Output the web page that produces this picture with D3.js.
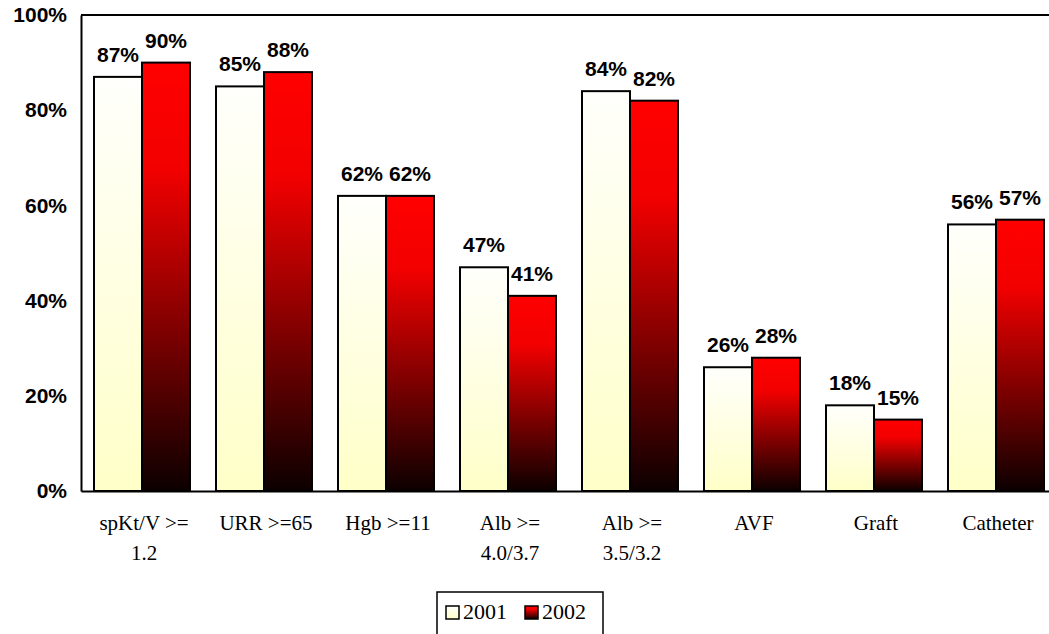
<!DOCTYPE html>
<html>
<head>
<meta charset="utf-8">
<script src="https://cdn.jsdelivr.net/npm/d3@7/dist/d3.min.js"></script>
<style>
  html, body { margin: 0; padding: 0; background: #fff; }
  svg { display: block; }
</style>
</head>
<body>
<svg id="chart" width="1049" height="634"></svg>
<script>
// Quality indicators, share of patients meeting each target
const categories = [
  ["spKt/V >=", "1.2"],
  ["URR >=65"],
  ["Hgb >=11"],
  ["Alb >=", "4.0/3.7"],
  ["Alb >=", "3.5/3.2"],
  ["AVF"],
  ["Graft"],
  ["Catheter"]
];
const years = ["2001", "2002"];
const values2001 = [87, 85, 62, 47, 84, 26, 18, 56];
const values2002 = [90, 88, 62, 41, 82, 28, 15, 57];
const yTicks = [0, 20, 40, 60, 80, 100];

const series = [values2001, values2002];
const catKeys = categories.map(c => c.join(" "));

const svg = d3.select("#chart");
const W = 1049, H = 634;
const m = { left: 81, top: 15, bottom: 491 };
const plotRight = 1057; // the frame runs past the visible right edge

const x0 = d3.scaleBand().domain(catKeys).range([m.left, plotRight]).paddingInner(0).paddingOuter(0);
const pairWidth = 96;
const x1 = d3.scaleBand().domain(years).range([0, pairWidth]).padding(0);
const y = d3.scaleLinear().domain([0, 100]).range([m.bottom, m.top]);

// Gradients: each bar is shaded from its own top to its own bottom
const defs = svg.append("defs");
const g2001 = defs.append("linearGradient").attr("id", "grad2001")
  .attr("x1", 0).attr("y1", 0).attr("x2", 0).attr("y2", 1);
g2001.append("stop").attr("offset", "0").attr("stop-color", "#fffffc");
g2001.append("stop").attr("offset", "1").attr("stop-color", "#ffffc8");
const g2002 = defs.append("linearGradient").attr("id", "grad2002")
  .attr("x1", 0).attr("y1", 0).attr("x2", 0).attr("y2", 1);
g2002.append("stop").attr("offset", "0").attr("stop-color", "#ff0000");
g2002.append("stop").attr("offset", "0.25").attr("stop-color", "#f20000");
g2002.append("stop").attr("offset", "1").attr("stop-color", "#0c0000");
const fills = ["url(#grad2001)", "url(#grad2002)"];

// Frame: top border line
svg.append("line")
  .attr("x1", m.left).attr("x2", W)
  .attr("y1", y(100)).attr("y2", y(100))
  .attr("stroke", "#000").attr("stroke-width", 2);

// Bars
const groups = svg.append("g").selectAll("g")
  .data(catKeys)
  .join("g")
  .attr("transform", d => `translate(${x0(d) + (x0.bandwidth() - pairWidth) / 2},0)`);

groups.selectAll("rect")
  .data((d, i) => years.map((yr, j) => ({ yr, j, v: series[j][i] })))
  .join("rect")
  .attr("x", d => x1(d.yr))
  .attr("y", d => y(d.v))
  .attr("width", x1.bandwidth())
  .attr("height", d => y(0) - y(d.v))
  .attr("fill", d => fills[d.j])
  .attr("stroke", "#000")
  .attr("stroke-width", 2);

// Value labels
groups.selectAll("text.val")
  .data((d, i) => years.map((yr, j) => ({ yr, j, v: series[j][i] })))
  .join("text")
  .attr("class", "val")
  .attr("x", d => x1(d.yr) + x1.bandwidth() / 2)
  .attr("y", d => y(d.v) - 15)
  .attr("text-anchor", "middle")
  .attr("font-family", "Liberation Sans, Arial, sans-serif")
  .attr("font-weight", "bold")
  .attr("font-size", 21)
  .attr("fill", "#000")
  .text(d => d.v + "%");

// Y axis
const yAxis = d3.axisLeft(y).tickValues(yTicks).tickSize(0).tickPadding(14)
  .tickFormat(d => d + "%");
const ya = svg.append("g").attr("transform", `translate(${m.left},0)`).call(yAxis);
ya.select(".domain").attr("stroke", "#000").attr("stroke-width", 2);
ya.selectAll("text")
  .attr("font-family", "Liberation Sans, Arial, sans-serif")
  .attr("font-weight", "bold")
  .attr("font-size", 21)
  .attr("fill", "#000");

// X axis
const xAxis = d3.axisBottom(x0).tickSize(0).tickFormat(() => "");
const xa = svg.append("g").attr("transform", `translate(0,${m.bottom})`).call(xAxis);
xa.select(".domain").attr("stroke", "#000").attr("stroke-width", 2);

// Category labels (one or two lines)
svg.append("g").selectAll("text")
  .data(categories)
  .join("text")
  .attr("x", (d, i) => x0(catKeys[i]) + x0.bandwidth() / 2 + 2)
  .attr("y", 530)
  .attr("text-anchor", "middle")
  .attr("font-family", "Liberation Serif, Times New Roman, serif")
  .attr("font-size", 21)
  .attr("fill", "#000")
  .each(function (d) {
    const t = d3.select(this);
    d.forEach((line, k) => {
      t.append("tspan")
        .attr("x", t.attr("x"))
        .attr("dy", k === 0 ? 0 : 30)
        .text(line);
    });
  });

// Legend
const legend = svg.append("g");
legend.append("rect")
  .attr("x", 437).attr("y", 592).attr("width", 166).attr("height", 45)
  .attr("fill", "#fff").attr("stroke", "#000").attr("stroke-width", 1.5);
const items = legend.selectAll("g.item")
  .data(years)
  .join("g")
  .attr("class", "item")
  .attr("transform", (d, i) => `translate(${446 + i * 79},606)`);
items.append("rect")
  .attr("width", 13).attr("height", 13)
  .attr("fill", (d, i) => fills[i])
  .attr("stroke", "#000").attr("stroke-width", 1.5);
items.append("text")
  .attr("x", 17).attr("y", 13)
  .attr("font-family", "Liberation Serif, Times New Roman, serif")
  .attr("font-size", 22)
  .attr("fill", "#000")
  .text(d => d);
</script>
</body>
</html>
